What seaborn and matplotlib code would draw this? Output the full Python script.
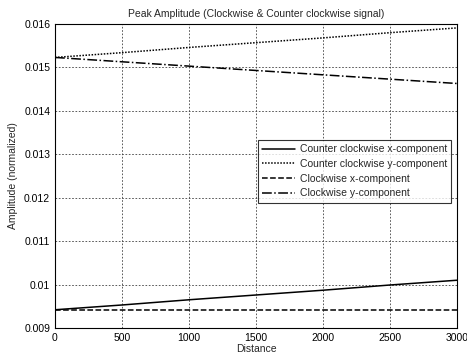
import matplotlib
matplotlib.use("Agg")
import matplotlib.pyplot as plt
import seaborn as sns
import pandas as pd

distance = [0, 500, 1000, 1500, 2000, 2500, 3000]
ccw_x = [0.00942, 0.00953, 0.00965, 0.00976, 0.00987, 0.00999, 0.01010]
ccw_y = [0.01523, 0.01534, 0.01546, 0.01557, 0.01568, 0.01580, 0.01591]
cw_x = [0.00942, 0.00942, 0.00942, 0.00942, 0.00942, 0.00942, 0.00942]
cw_y = [0.01523, 0.01513, 0.01503, 0.01493, 0.01483, 0.01473, 0.01463]
labels = ["Counter clockwise x-component", "Counter clockwise y-component",
          "Clockwise x-component", "Clockwise y-component"]
yticks = [0.009, 0.01, 0.011, 0.012, 0.013, 0.014, 0.015, 0.016]
ytick_labels = ["0.009", "0.01", "0.011", "0.012", "0.013", "0.014", "0.015", "0.016"]
xticks = [0, 500, 1000, 1500, 2000, 2500, 3000]

sns.set_style("white")
plt.rcParams['font.family'] = ['Liberation Sans', 'DejaVu Sans']
plt.rcParams['font.size'] = 7.5

fig = plt.figure(figsize=(4.67, 3.56), dpi=100)
ax = fig.add_axes([55/467, 1 - 328/356, 402/467, 304/356])

styles = ['-', (0, (1, 1)), '--', '-.']
for vals, lab, ls in zip([ccw_x, ccw_y, cw_x, cw_y], labels, styles):
    df = pd.DataFrame({"Distance": distance, "Amp": vals})
    sns.lineplot(data=df, x="Distance", y="Amp", ax=ax, color="black",
                 linestyle=ls, linewidth=1.1, label=lab)

ax.set_xlim(0, 3000)
ax.set_ylim(0.009, 0.016)
ax.set_xticks(xticks)
ax.set_xticklabels([str(x) for x in xticks])
ax.set_yticks(yticks)
ax.set_yticklabels(ytick_labels)
ax.grid(True, color="#404040", linestyle=(0, (2, 2)), linewidth=0.6)
ax.tick_params(direction="in", length=3, colors="black", labelsize=7.5)
for s in ax.spines.values():
    s.set_color("black")
    s.set_linewidth(0.8)
ax.set_xlabel("Distance", fontsize=7.5, labelpad=1)
ax.set_ylabel("Amplitude (normalized)", fontsize=7.5, labelpad=4)
ax.set_title("Peak Amplitude (Clockwise & Counter clockwise signal)", fontsize=7.5, pad=5)
leg = ax.legend(loc="upper right", bbox_to_anchor=(0.985, 0.618), borderaxespad=0,
                frameon=True, fancybox=False, edgecolor="black", fontsize=7.5,
                handlelength=3.2, borderpad=0.4, labelspacing=0.45, handletextpad=0.4)
leg.get_frame().set_linewidth(0.8)

fig.savefig("out.png", dpi=100, facecolor="white")
